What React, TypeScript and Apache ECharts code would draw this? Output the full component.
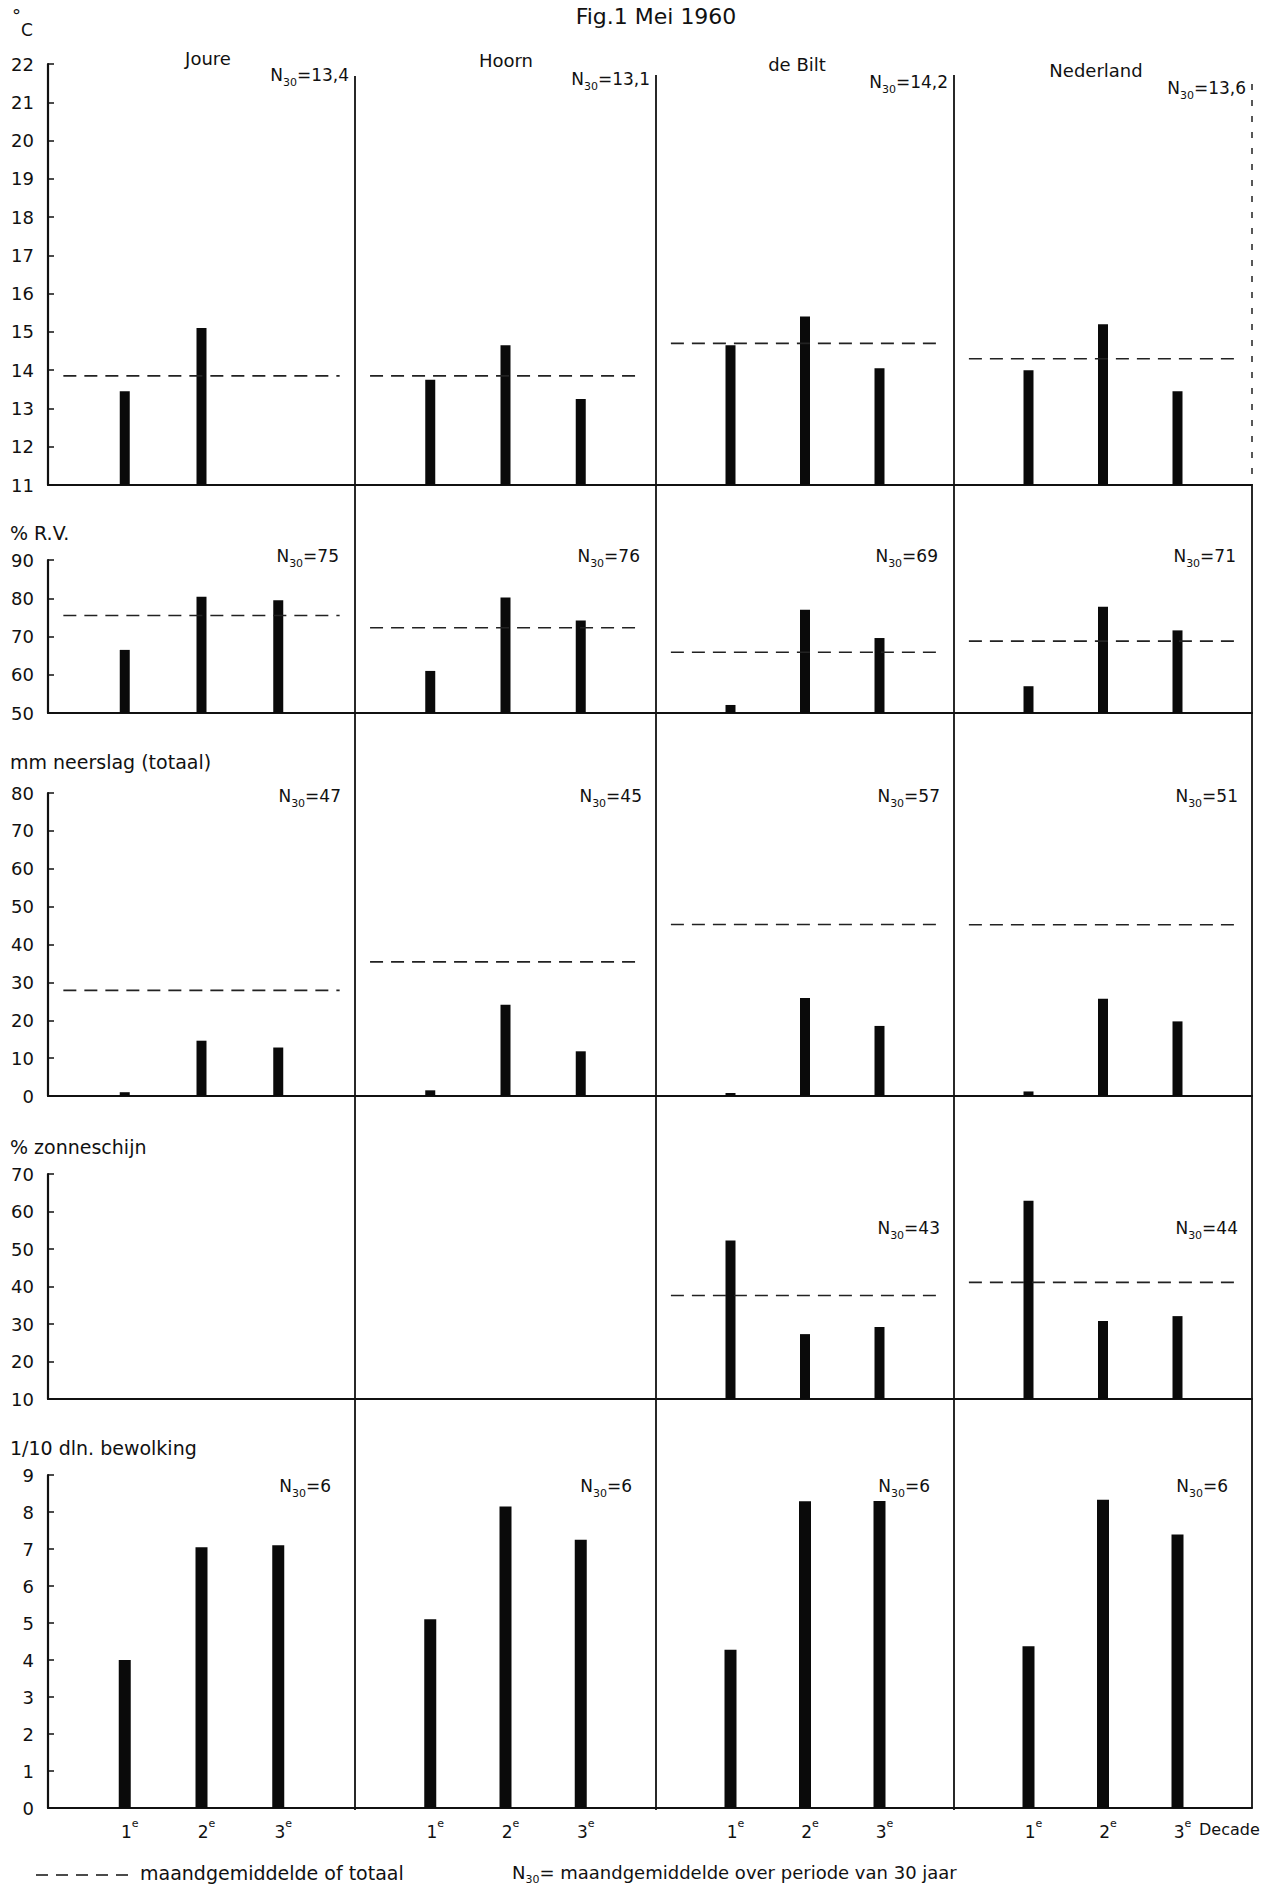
import React, { useEffect, useRef } from 'react';
import * as echarts from 'echarts';

// ---------- data ----------
const stations = ['Joure', 'Hoorn', 'de Bilt', 'Nederland'];
const decades = [1, 2, 3];
const decadeLabels = ['1e', '2e', '3e'];

const tempBars = [
  [13.45, 15.1, null],
  [13.75, 14.65, 13.25],
  [14.65, 15.4, 14.05],
  [14.0, 15.2, 13.45],
];
const tempMean = [13.85, 13.85, 14.7, 14.3];
const tempN30 = ['13,4', '13,1', '14,2', '13,6'];
const tempTicks = { min: 11, max: 22, interval: 1 };

const rvBars = [
  [66.5, 80.4, 79.5],
  [61.0, 80.2, 74.2],
  [52.1, 77.0, 69.6],
  [57.0, 77.8, 71.6],
];
const rvMean = [75.5, 72.3, 65.9, 68.8];
const rvN30 = ['75', '76', '69', '71'];
const rvTicks = { min: 50, max: 90, interval: 10 };

const rainBars = [
  [1.0, 14.6, 12.8],
  [1.5, 24.1, 11.8],
  [0.8, 25.9, 18.5],
  [1.2, 25.7, 19.7],
];
const rainMean = [27.9, 35.4, 45.3, 45.2];
const rainN30 = ['47', '45', '57', '51'];
const rainTicks = { min: 0, max: 80, interval: 10 };

const sunBars = [
  [null, null, null],
  [null, null, null],
  [52.3, 27.3, 29.2],
  [62.9, 30.8, 32.1],
];
const sunMean = [null, null, 37.6, 41.1];
const sunN30 = [null, null, '43', '44'];
const sunTicks = { min: 10, max: 70, interval: 10 };

const cloudBars = [
  [4.0, 7.05, 7.1],
  [5.1, 8.15, 7.25],
  [4.28, 8.29, 8.3],
  [4.37, 8.33, 7.39],
];
const cloudN30 = ['6', '6', '6', '6'];
const cloudTicks = { min: 0, max: 9, interval: 1 };

const panelTitles = ['', '% R.V.', 'mm neerslag (totaal)', '% zonneschijn', '1/10 dln. bewolking'];
const figTitle = 'Fig.1 Mei 1960';
const legendMean = 'maandgemiddelde of totaal';
const legendN30 = '= maandgemiddelde over periode van 30 jaar';

// ---------- layout ----------
const FONT = "'DejaVu Sans', sans-serif";
const INK = '#111';
const colL = [48, 355, 656, 954];
const colR = [355, 656, 954, 1252];
const rowTop = [64, 560, 793, 1174, 1475];
const rowBot = [485, 713, 1096, 1399, 1808];
const titleY = [0, 533, 762, 1147, 1448];
const n30Y = [[75, 79, 82, 88], [556, 556, 556, 556], [796, 796, 796, 796], [1228, 1228, 1228, 1228], [1486, 1486, 1486, 1486]];
const n30Right = [6, 16, 14, 14, 24];
const barW = [10, 10, 10, 10, 12];
const stationX = [208, 506, 797, 1096];
const stationY = [58, 60, 64, 70];
const meanSpan = [0.2, 3.8];

const panels = [
  { ticks: tempTicks, bars: tempBars, mean: tempMean, n30: tempN30 },
  { ticks: rvTicks, bars: rvBars, mean: rvMean, n30: rvN30 },
  { ticks: rainTicks, bars: rainBars, mean: rainMean, n30: rainN30 },
  { ticks: sunTicks, bars: sunBars, mean: sunMean, n30: sunN30 },
  { ticks: cloudTicks, bars: cloudBars, mean: [null, null, null, null], n30: cloudN30 },
];

const subRich = {
  a: { fontSize: 17, lineHeight: 26, fontFamily: FONT, fill: INK, verticalAlign: 'middle' },
  b: { fontSize: 11, lineHeight: 10, fontFamily: FONT, fill: INK, verticalAlign: 'bottom' },
};
const legendRich = {
  a: { fontSize: 18, lineHeight: 26, fontFamily: FONT, fill: INK, verticalAlign: 'middle' },
  b: { fontSize: 11, lineHeight: 10, fontFamily: FONT, fill: INK, verticalAlign: 'bottom' },
};

function n30Text(val: string, x: number, y: number) {
  return {
    type: 'text',
    x,
    y,
    style: {
      text: `{a|N}{b|30}{a|=${val}}`,
      align: 'right',
      verticalAlign: 'middle',
      fill: INK,
      rich: subRich,
    },
  };
}

function buildOption() {
  const grid: any[] = [];
  const xAxis: any[] = [];
  const yAxis: any[] = [];
  const series: any[] = [];
  const graphic: any[] = [];

  panels.forEach((p, r) => {
    for (let c = 0; c < 4; c++) {
      const idx = r * 4 + c;
      grid.push({
        left: colL[c],
        top: rowTop[r],
        width: colR[c] - colL[c],
        height: rowBot[r] - rowTop[r],
        outerBoundsMode: 'none',
        containLabel: false,
      });
      const isBottom = r === 4;
      xAxis.push({
        gridIndex: idx,
        type: 'value',
        min: 0,
        max: 4,
        interval: 1,
        axisLine: { show: true, onZero: false, lineStyle: { color: INK, width: 2.2 } },
        axisTick: { show: false },
        splitLine: { show: false },
        axisLabel: isBottom
          ? {
              show: true,
              margin: 10,
              color: INK,
              formatter: (v: number) => {
                const i = decades.indexOf(v);
                if (i < 0) return '';
                const lbl = decadeLabels[i];
                return `{d|${lbl[0]}}{e|${lbl.slice(1)}}`;
              },
              rich: {
                d: { fontSize: 17, lineHeight: 22, fontFamily: FONT, color: INK, verticalAlign: 'bottom', padding: [0, 0, 0, 10] },
                e: { fontSize: 11, lineHeight: 11, fontFamily: FONT, color: INK, verticalAlign: 'top' },
              },
            }
          : { show: false },
      });
      yAxis.push({
        gridIndex: idx,
        type: 'value',
        min: p.ticks.min,
        max: p.ticks.max,
        interval: p.ticks.interval,
        axisLine: { show: c === 0, lineStyle: { color: INK, width: 2.2 } },
        axisTick: { show: c === 0, inside: true, length: 6, lineStyle: { color: INK, width: 1.5 } },
        axisLabel: { show: c === 0, margin: 14, fontSize: 18, color: INK, fontFamily: FONT },
        splitLine: { show: false },
      });
      const data = decades
        .map((d, i) => (p.bars[c][i] == null ? null : [d, p.bars[c][i]]))
        .filter((x) => x !== null);
      if (data.length) {
        series.push({
          type: 'bar',
          xAxisIndex: idx,
          yAxisIndex: idx,
          data,
          barWidth: barW[r],
          clip: true,
          itemStyle: { color: '#0a0a0a' },
          silent: true,
        });
      }
      const m = p.mean[c];
      if (m != null) {
        series.push({
          type: 'line',
          xAxisIndex: idx,
          yAxisIndex: idx,
          data: [
            [meanSpan[0], m],
            [meanSpan[1], m],
          ],
          symbol: 'none',
          silent: true,
          lineStyle: { color: '#222', width: 1.6, type: [13, 8] },
        });
      }
      const n = p.n30[c];
      if (n != null) {
        graphic.push(n30Text(n, colR[c] - n30Right[r], n30Y[r][c]));
      }
    }
    if (panelTitles[r]) {
      graphic.push({
        type: 'text',
        x: 10,
        y: titleY[r],
        style: { text: panelTitles[r], fontSize: 19, fontFamily: FONT, fill: INK, verticalAlign: 'middle' },
      });
    }
  });

  // station names
  stations.forEach((s, c) => {
    graphic.push({
      type: 'text',
      x: stationX[c],
      y: stationY[c],
      style: { text: s, fontSize: 18, fontFamily: FONT, fill: INK, align: 'center', verticalAlign: 'middle' },
    });
  });

  // column dividers
  [355, 656, 954].forEach((x, i) => {
    graphic.push({
      type: 'line',
      shape: { x1: x, y1: [76, 75, 75][i], x2: x, y2: 1810 },
      style: { stroke: INK, lineWidth: 1.8 },
    });
  });
  graphic.push({
    type: 'line',
    shape: { x1: 1252, y1: 84, x2: 1252, y2: 486 },
    style: { stroke: INK, lineWidth: 1.4, lineDash: [6, 10] },
  });
  graphic.push({
    type: 'line',
    shape: { x1: 1252, y1: 486, x2: 1252, y2: 1808 },
    style: { stroke: INK, lineWidth: 1.8 },
  });

  // title and unit
  graphic.push({
    type: 'text',
    x: 656,
    y: 16,
    style: { text: figTitle, fontSize: 22, fontFamily: FONT, fill: INK, align: 'center', verticalAlign: 'middle' },
  });
  graphic.push({
    type: 'text',
    x: 12,
    y: 22,
    style: {
      text: '{o|°}{c|C}',
      verticalAlign: 'middle',
      rich: {
        o: { fontSize: 18, lineHeight: 32, fontFamily: FONT, fill: INK, verticalAlign: 'top' },
        c: { fontSize: 17, lineHeight: 18, fontFamily: FONT, fill: INK, verticalAlign: 'bottom' },
      },
    },
  });

  // "Decade"
  graphic.push({
    type: 'text',
    x: 1199,
    y: 1829,
    style: { text: 'Decade', fontSize: 16, fontFamily: FONT, fill: INK, verticalAlign: 'middle' },
  });

  // legend
  graphic.push({
    type: 'line',
    shape: { x1: 36, y1: 1875, x2: 134, y2: 1875 },
    style: { stroke: INK, lineWidth: 1.6, lineDash: [12, 8] },
  });
  graphic.push({
    type: 'text',
    x: 140,
    y: 1873,
    style: { text: legendMean, fontSize: 19, fontFamily: FONT, fill: INK, verticalAlign: 'middle' },
  });
  graphic.push({
    type: 'text',
    x: 512,
    y: 1872,
    style: {
      text: `{a|N}{b|30}{a|${legendN30}}`,
      verticalAlign: 'middle',
      rich: legendRich,
    },
  });

  return {
    animation: false,
    backgroundColor: '#ffffff',
    grid,
    xAxis,
    yAxis,
    series,
    graphic,
  };
}

export default function App() {
  const ref = useRef<HTMLDivElement>(null);
  useEffect(() => {
    document.body.style.margin = '0';
    if (!ref.current) return;
    const chart = echarts.init(ref.current, undefined, { renderer: 'svg' });
    chart.setOption(buildOption() as any);
    return () => chart.dispose();
  }, []);
  return <div ref={ref} style={{ width: 1269, height: 1887 }} />;
}
